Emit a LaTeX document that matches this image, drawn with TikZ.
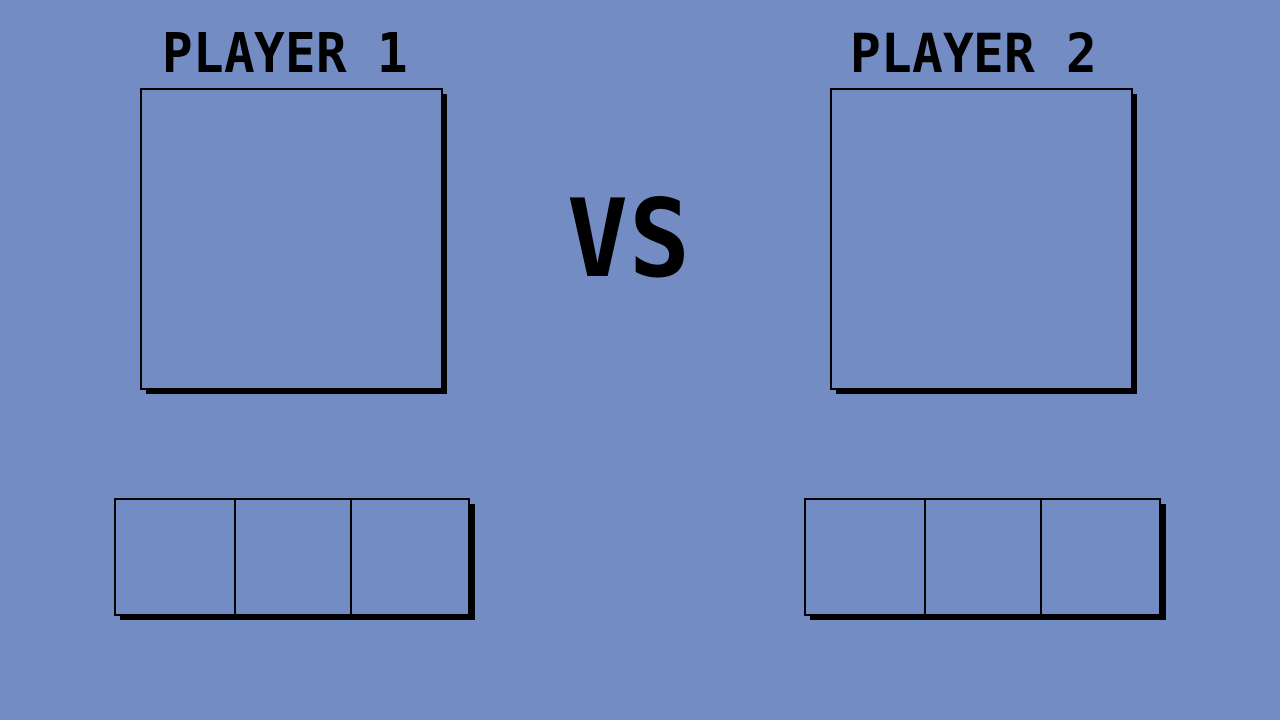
\documentclass[tikz,border=0pt]{standalone}
\usepackage{fontspec}
\usepackage{graphicx}
\setmainfont{DejaVu Sans Mono}
\usetikzlibrary{shadows}
\definecolor{bg}{HTML}{738DC4}
\tikzset{
  panel/.style={draw=black, line width=2pt, fill=bg, inner sep=0pt, outer sep=0pt,
    drop shadow={shadow xshift=5pt, shadow yshift=-5pt, fill=black, opacity=1}},
  rowpanel/.style={panel,
    drop shadow={shadow xshift=6pt, shadow yshift=-5pt, fill=black, opacity=1}},
  divider/.style={draw=black, line width=2pt},
  label/.style={inner sep=0pt, outer sep=0pt, text=black}
}
\begin{document}
\begin{tikzpicture}[x=1pt,y=-1pt]
\fill[bg] (0,0) rectangle (1280,720);
\useasboundingbox (0,0) rectangle (1280,720);
% titles
\node[label] (t1) at (285.5,52) {\resizebox{245pt}{40pt}{\bfseries PLAYER 1}};
\node[label] (t2) at (974,52) {\resizebox{246pt}{40pt}{\bfseries PLAYER 2}};
\node[label] (vs) at (629,237) {\resizebox{122pt}{80pt}{\bfseries VS}};
% big boxes
\node[panel, minimum width=301pt, minimum height=300pt] (p1) at (291.5,239) {};
\node[panel, minimum width=301pt, minimum height=300pt] (p2) at (981.5,239) {};
% small rows
\node[rowpanel, minimum width=354pt, minimum height=116pt] (r1) at (292,557) {};
\node[rowpanel, minimum width=355pt, minimum height=116pt] (r2) at (982.5,557) {};
\coordinate (r1a) at (235,499); \coordinate (r1b) at (235,615);
\coordinate (r1c) at (351,499); \coordinate (r1d) at (351,615);
\coordinate (r2a) at (925,499); \coordinate (r2b) at (925,615);
\coordinate (r2c) at (1041,499); \coordinate (r2d) at (1041,615);
\draw[divider] (r1a) -- (r1b);
\draw[divider] (r1c) -- (r1d);
\draw[divider] (r2a) -- (r2b);
\draw[divider] (r2c) -- (r2d);
\end{tikzpicture}
\end{document}
